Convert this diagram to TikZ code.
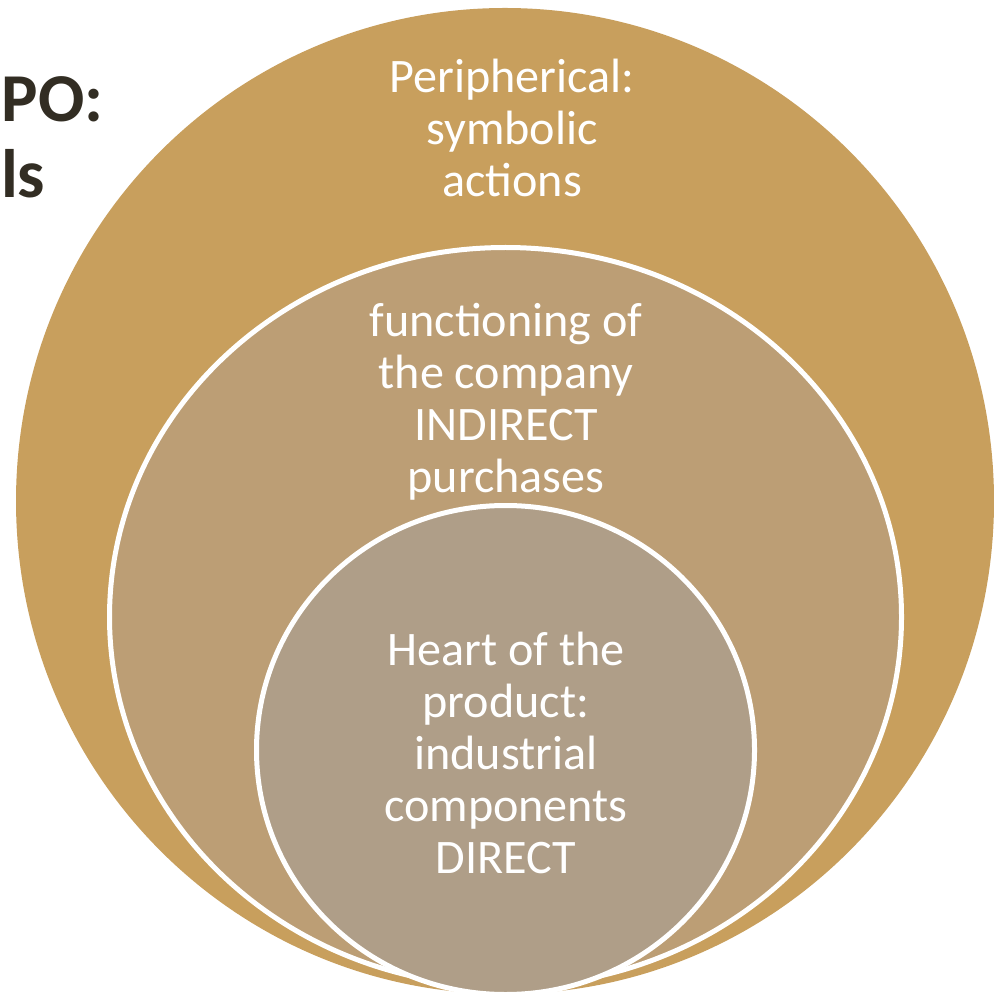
\documentclass[tikz,border=0pt]{standalone}
\usepackage{fontspec}
\setmainfont{Carlito}
\usetikzlibrary{positioning}

\begin{document}
\begin{tikzpicture}[x=0.1mm,y=-0.1mm,
  ring/.style={draw=white,line width=0.5mm},
  ringtext/.style={text=white,align=center,inner sep=0pt,font=\fontsize{13.7}{14.8}\selectfont},
  titletext/.style={text=titlecol,inner sep=0pt,anchor=base east,font=\fontsize{19.5}{22}\selectfont\bfseries}]

\definecolor{outercol}{RGB}{200,159,93}
\definecolor{middlecol}{RGB}{188,158,117}
\definecolor{innercol}{RGB}{175,158,136}
\definecolor{titlecol}{RGB}{50,45,35}

\useasboundingbox (0,0) rectangle (993,996);

%title
\node[titletext] (t1) at (104,122) {PO:};
\node[titletext] (t2) at (46,198) {ls};

%outer
\path[fill=outercol] (505,501) ellipse [x radius=48.9mm, y radius=49.3mm];
\node[ringtext] (p1) at (512,128) {Peripherical:\\symbolic\\actions};

%middle
\path[ring,fill=middlecol] (505.5,617) ellipse [x radius=39.6mm, y radius=36.95mm];
\node[ringtext] (p2) at (506,402) {functioning of\\the company\\INDIRECT\\purchases};

%inner
\path[ring,fill=innercol] (505.5,750) ellipse [x radius=24.9mm, y radius=24.45mm];
\node[ringtext] (p3) at (506,753) {Heart of the\\product:\\industrial\\components\\DIRECT};

\end{tikzpicture}
\end{document}
